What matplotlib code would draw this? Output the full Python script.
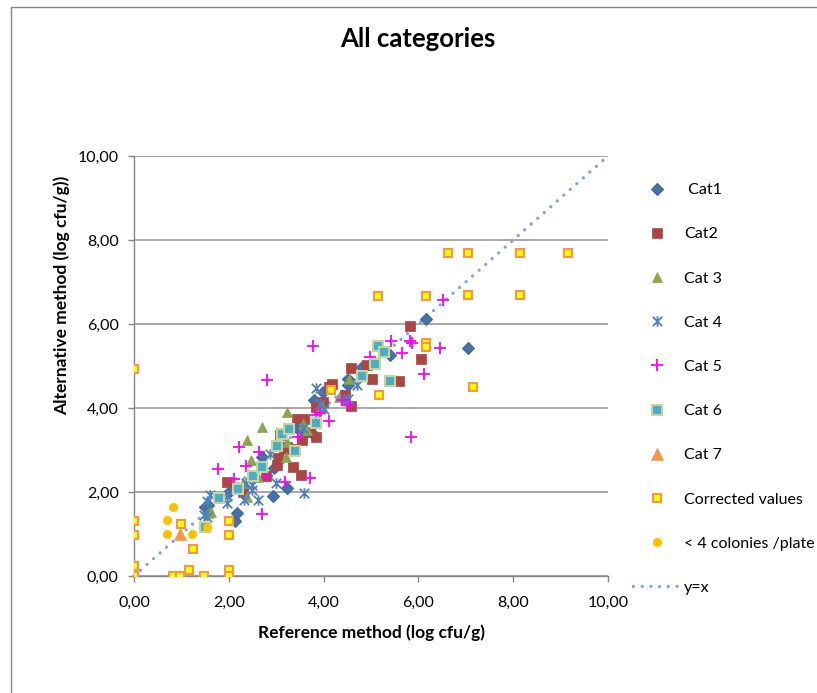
import matplotlib
matplotlib.use('Agg')
import matplotlib.pyplot as plt
from matplotlib.path import Path
from matplotlib.patches import Rectangle
import matplotlib.ticker as mticker

plt.rcParams['font.family'] = ['Lato', 'DejaVu Sans']

# ---------------- data ----------------
cat1_x = [1.50, 1.57, 2.03, 2.14, 2.17, 2.69, 2.93, 2.96, 3.22, 3.41, 3.54, 3.78, 3.80, 3.99, 4.52, 4.52, 4.80, 5.41, 6.15, 7.05]
cat1_y = [1.64, 1.68, 2.02, 1.31, 1.50, 2.83, 1.90, 2.56, 2.09, 3.55, 3.48, 3.37, 4.20, 4.39, 4.55, 4.68, 4.97, 5.26, 6.13, 5.42]

cat2_x = [1.96, 2.31, 2.78, 3.01, 3.03, 3.07, 3.17, 3.22, 3.35, 3.36, 3.53, 3.54, 3.43, 3.59, 3.71, 3.85, 3.84, 3.99, 4.12, 4.17, 4.46, 4.57, 4.58, 4.91, 5.03, 5.59, 5.82, 6.05]
cat2_y = [2.24, 2.00, 2.39, 2.64, 2.82, 3.35, 3.03, 3.08, 2.60, 3.02, 2.40, 3.24, 3.73, 3.73, 3.44, 3.32, 4.03, 4.15, 4.50, 4.57, 4.31, 4.04, 4.95, 5.03, 4.68, 4.65, 5.95, 5.16]

cat3_x = [1.57, 1.62, 2.31, 2.38, 2.38, 2.47, 2.61, 2.71, 3.21, 3.22, 3.22, 3.57, 3.66, 3.97, 4.33, 4.54, 5.26]
cat3_y = [1.49, 1.52, 2.22, 1.87, 3.24, 2.77, 2.36, 3.55, 2.84, 3.20, 3.91, 3.63, 3.48, 4.04, 4.27, 4.68, 5.38]

cat4_x = [1.48, 1.55, 1.55, 1.60, 1.96, 1.97, 2.33, 2.36, 2.48, 2.48, 2.61, 2.86, 3.00, 3.59, 3.57, 3.83, 3.92, 4.01, 4.45, 4.52, 4.71]
cat4_y = [1.45, 1.41, 1.79, 1.92, 1.75, 1.90, 1.81, 2.21, 2.05, 2.17, 1.81, 2.91, 2.22, 1.98, 3.52, 4.47, 4.10, 3.97, 4.19, 4.21, 4.55]

cat5_x = [1.78, 2.12, 2.22, 2.37, 2.63, 2.71, 2.80, 2.81, 3.19, 3.47, 3.71, 3.78, 3.83, 3.92, 4.11, 4.39, 4.54, 4.97, 5.42, 5.66, 5.82, 5.86, 5.84, 6.12, 6.45, 6.51]
cat5_y = [2.54, 2.32, 3.06, 2.63, 2.96, 1.47, 4.67, 2.37, 2.25, 3.30, 2.33, 5.48, 3.84, 3.87, 3.69, 4.19, 4.08, 5.22, 5.60, 5.32, 5.60, 5.55, 3.32, 4.81, 5.44, 6.57]

cat6_x = [1.50, 1.80, 2.20, 2.52, 2.70, 3.01, 3.13, 3.28, 3.40, 3.83, 4.82, 5.08, 5.14, 5.28, 5.40]
cat6_y = [1.16, 1.85, 2.06, 2.39, 2.60, 3.10, 3.37, 3.49, 2.98, 3.64, 4.76, 5.04, 5.48, 5.34, 4.65]

cat7_x = [0.98]
cat7_y = [0.99]

corr_x = [0.00, 0.00, 0.00, 0.00, 0.00, 0.83, 0.96, 1.15, 1.00, 1.24, 1.48, 2.00, 2.00, 2.00, 2.00,
          4.16, 5.16, 6.16, 6.16, 7.16, 5.15, 6.16, 7.05, 8.15, 6.62, 7.05, 8.14, 9.16]
corr_y = [4.93, 1.31, 0.98, 0.25, 0.00, 0.00, 0.00, 0.15, 1.24, 0.64, 0.00, 1.31, 0.98, 0.15, 0.00,
          4.44, 4.31, 5.55, 5.46, 4.51, 6.67, 6.67, 6.68, 6.68, 7.68, 7.68, 7.68, 7.68]

few_x = [0.83, 0.69, 0.69, 1.22, 1.53]
few_y = [1.64, 1.33, 1.00, 1.00, 1.17]

line_x = [0, 10]
line_y = [0, 10]

labels = [' Cat1', 'Cat2', 'Cat 3', 'Cat 4', 'Cat 5', 'Cat 6', 'Cat 7',
          'Corrected values', '< 4 colonies /plate', 'y=x']

# ---------------- figure ----------------
W, H = 817, 693
fig = plt.figure(figsize=(W / 100, H / 100), dpi=100)
fig.patch.set_facecolor('white')

ax = fig.add_axes([134 / W, 1 - 576 / H, 474 / W, 420 / H])
ax.set_xlim(0, 10)
ax.set_ylim(0, 10)

star = Path([(-1, -1), (1, 1), (-1, 1), (1, -1), (0, -1.1), (0, 1.1)],
            [Path.MOVETO, Path.LINETO, Path.MOVETO, Path.LINETO, Path.MOVETO, Path.LINETO])

h = []
h.append(ax.plot(cat1_x, cat1_y, ls='none', marker='D', ms=6, mfc='#4572A7', mec='#3F68A0', mew=0.8, zorder=3)[0])
h.append(ax.plot(cat2_x, cat2_y, ls='none', marker='s', ms=6.5, mfc='#AA4643', mec='#AA4643', mew=0.5, zorder=3)[0])
h.append(ax.plot(cat3_x, cat3_y, ls='none', marker='^', ms=7, mfc='#89A54E', mec='#89A54E', mew=0.5, zorder=3)[0])
h.append(ax.plot(cat4_x, cat4_y, ls='none', marker=star, ms=7.5, mfc='none', mec='#4F81BD', mew=1.3, zorder=3)[0])
h.append(ax.plot(cat5_x, cat5_y, ls='none', marker='+', ms=8.5, mec='#FF00FF', mew=1.3, zorder=3)[0])
h.append(ax.plot(cat6_x, cat6_y, ls='none', marker='s', ms=7.5, mfc='#4BACC6', mec='#C3D69B', mew=1.5, zorder=3)[0])
h.append(ax.plot(cat7_x, cat7_y, ls='none', marker='^', ms=9, mfc='#F79646', mec='#F79646', mew=0.5, zorder=3)[0])
h.append(ax.plot(corr_x, corr_y, ls='none', marker='s', ms=5.5, mfc='#FFFF00', mec='#F79646', mew=1.5, zorder=4)[0])
h.append(ax.plot(few_x, few_y, ls='none', marker='o', ms=6, mfc='#FFC000', mec='#FFC000', mew=0.5, zorder=4)[0])
h.append(ax.plot(line_x, line_y, color='#7FA6DC', lw=2.4, ls=(0, (0.01, 2.6)), dash_capstyle='round',
                 zorder=2, clip_on=False)[0])

# axes styling
for s in ['top', 'right']:
    ax.spines[s].set_visible(False)
for s in ['left', 'bottom']:
    ax.spines[s].set_color('#868686')
    ax.spines[s].set_linewidth(1.0)
ax.set_xticks([0, 2, 4, 6, 8, 10])
ax.set_yticks([0, 2, 4, 6, 8, 10])
fmt = mticker.FuncFormatter(lambda v, p: f"{v:.2f}".replace('.', ','))
ax.xaxis.set_major_formatter(fmt)
ax.yaxis.set_major_formatter(fmt)
ax.tick_params(axis='both', direction='out', length=4, width=1, color='#868686',
               labelsize=11.5, labelcolor='black')
ax.tick_params(axis='x', pad=10)
ax.tick_params(axis='y', pad=7)
ax.yaxis.grid(True, color='#A0A0A0', lw=1.3, zorder=0)
ax.set_axisbelow(True)

ax.set_xlabel('Reference method (log cfu/g)', fontsize=12.5, fontweight='bold', labelpad=11)
fig.text(62 / W, 1 - 295 / H, 'Alternative method (log cfu/g))', rotation=90,
         fontsize=12.5, fontweight='bold', ha='center', va='center')

fig.text(418 / W, 1 - 39 / H, 'All categories', fontsize=18.5, fontweight='bold',
         ha='center', va='center')

fig.legend(h, labels, loc='upper left', bbox_to_anchor=(633 / W, 1 - 183 / H),
           frameon=False, fontsize=11.5, labelspacing=1.88, handlelength=3.0,
           handletextpad=0.2, borderpad=0, borderaxespad=0)

fig.patches.append(Rectangle((11 / W, -0.1), 1.2, 1.1 - 7 / H, transform=fig.transFigure,
                             fill=False, edgecolor='#868686', lw=1.0))

fig.savefig('out.png', dpi=100)
